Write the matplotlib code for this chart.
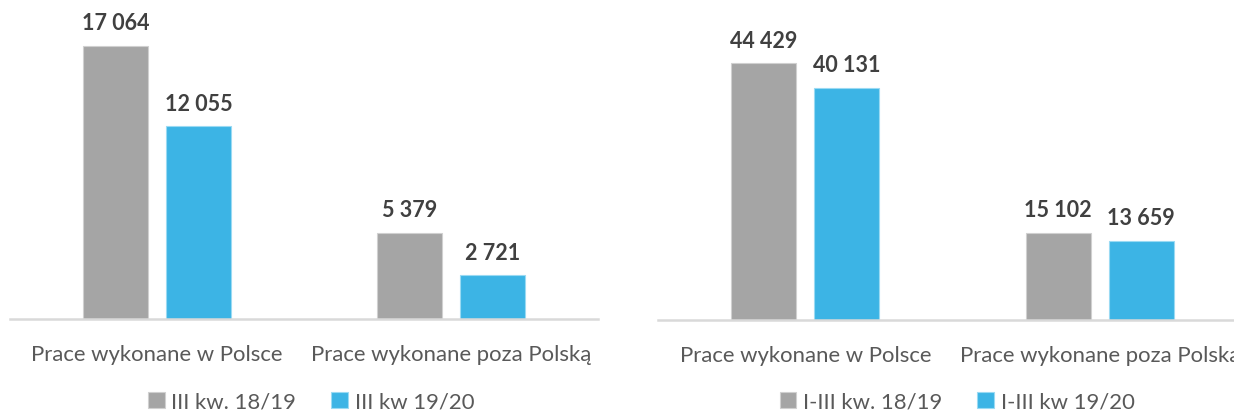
import matplotlib
matplotlib.use("Agg")
import matplotlib.pyplot as plt
import numpy as np

categories = ["Prace wykonane w Polsce", "Prace wykonane poza Polską"]

# III kwartał
q3_labels = ["III kw. 18/19", "III kw 19/20"]
q3_prev = [17064, 5379]
q3_curr = [12055, 2721]

# I-III kwartał narastająco
ytd_labels = ["I-III kw. 18/19", "I-III kw 19/20"]
ytd_prev = [44429, 15102]
ytd_curr = [40131, 13659]

gray = "#A5A5A5"
blue = "#3CB4E5"
plt.rcParams["font.family"] = ["Lato", "DejaVu Sans"]

W, H = 1234, 414
fig = plt.figure(figsize=(W / 100, H / 100), dpi=100)


def panel(rect, prev, curr, labels, ytop, legend_x):
    ax = fig.add_axes(rect)
    x = np.arange(len(categories))
    off, bw = 0.141, 0.221
    b1 = ax.bar(x - off, prev, bw, color=gray, edgecolor="#D0D0D0", linewidth=0.8, label=labels[0])
    b2 = ax.bar(x + off, curr, bw, color=blue, edgecolor="#9ADAF3", linewidth=0.8, label=labels[1])
    for bars in (b1, b2):
        for r in bars:
            v = r.get_height()
            ax.annotate(f"{int(v):,}".replace(",", " "), (r.get_x() + r.get_width() / 2, v),
                        xytext=(0, 9), textcoords="offset points", ha="center", va="bottom",
                        fontsize=15.5, fontweight="bold", color="#404040", annotation_clip=False)
    ax.set_xlim(-0.5, 1.5)
    ax.set_ylim(0, ytop)
    for s in ("top", "left", "right"):
        ax.spines[s].set_visible(False)
    ax.spines["bottom"].set_color("#D9D9D9")
    ax.spines["bottom"].set_linewidth(1.8)
    ax.set_yticks([])
    ax.set_xticks(x)
    ax.set_xticklabels(categories, fontsize=15.9, color="#595959")
    ax.tick_params(axis="x", length=0, pad=18)
    fig.legend(handles=[b1, b2], labels=labels, loc="center", bbox_to_anchor=(legend_x, 11 / H),
               ncol=2, frameon=False, fontsize=15.9, labelcolor="#595959",
               handlelength=0.75, handleheight=0.75, handletextpad=0.3, columnspacing=1.6,
               borderpad=0.1)
    return ax


panel([10 / W, 94 / H, 588 / W, 320 / H], q3_prev, q3_curr, q3_labels, 20000, 311 / W)
panel([658 / W, 93 / H, 589 / W, 321 / H], ytd_prev, ytd_curr, ytd_labels, 55500, 957 / W)

fig.savefig("out.png", dpi=100)
